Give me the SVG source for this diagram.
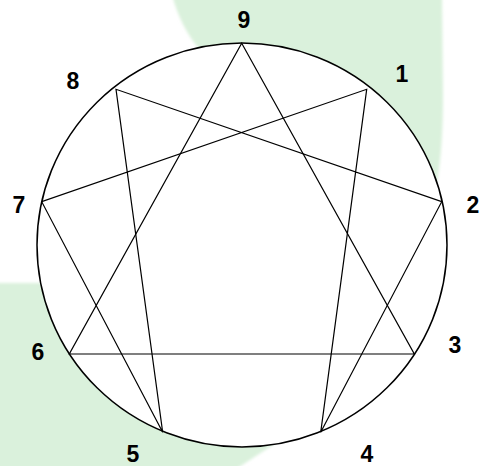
<svg xmlns="http://www.w3.org/2000/svg" width="480" height="466" viewBox="0 0 480 466">
<defs>
<style>
.bg{fill:#daf1dc;}
.ln{stroke:#000;stroke-width:1.2;fill:none;}
.lbl{font-family:"Liberation Sans",Arial,sans-serif;font-weight:bold;font-size:23px;fill:#000;text-anchor:middle;}
</style>
<filter id="soft" x="-5%" y="-5%" width="110%" height="110%"><feGaussianBlur stdDeviation="1.5"/></filter>
</defs>
<rect width="480" height="466" fill="#fff"/>
<g id="background" filter="url(#soft)">
<path class="bg" d="M172,-5 Q181,28 200,50 L240,120 L400,200 L437,182 C441,160 443,130 443,95 L442,-5 Z"/>
<path class="bg" d="M-5,283 L60,283 L200,380 L285,437 L233,471 L-5,471 Z"/>
</g>
<g id="circle">
<ellipse cx="242" cy="245" rx="205" ry="202" fill="#fff" stroke="#000" stroke-width="1.5"/>
</g>
<g id="connectors">
<polygon class="ln" points="241.7,43.3 414.3,354 69.3,354"/>
<polygon class="ln" points="366.7,89.3 320.7,432.3 441.7,201.7 116,89.3 162.7,432.3 41.7,201.7"/>
</g>
<g id="n9"><text class="lbl" x="244" y="28">9</text></g>
<g id="n1"><text class="lbl" x="402" y="82">1</text></g>
<g id="n2"><text class="lbl" x="473" y="213">2</text></g>
<g id="n3"><text class="lbl" x="455" y="353">3</text></g>
<g id="n4"><text class="lbl" x="367" y="462">4</text></g>
<g id="n5"><text class="lbl" x="133" y="462">5</text></g>
<g id="n6"><text class="lbl" x="38" y="360">6</text></g>
<g id="n7"><text class="lbl" x="19" y="213">7</text></g>
<g id="n8"><text class="lbl" x="73" y="89">8</text></g>
</svg>
